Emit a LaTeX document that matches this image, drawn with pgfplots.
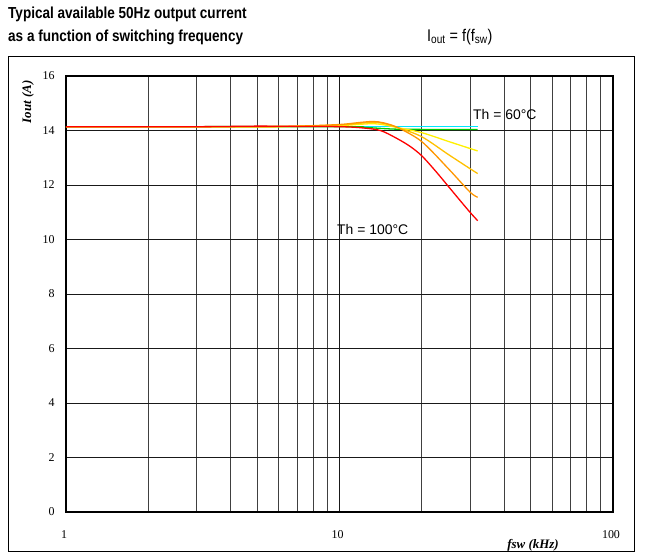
\documentclass[border=0pt]{standalone}
\usepackage{fontspec}
\setmainfont{Liberation Serif}
\newfontfamily\arial{Liberation Sans}
\newfontfamily\arialn[FakeStretch=0.85]{Liberation Sans}
\usepackage{pgfplots}
\pgfplotsset{compat=1.18}
\definecolor{cCyan}{RGB}{0,230,255}
\definecolor{cGreen}{RGB}{0,200,0}
\definecolor{cYellow}{RGB}{255,240,0}
\definecolor{cGold}{RGB}{255,192,0}
\definecolor{cOrange}{RGB}{255,150,0}
\definecolor{cRed}{RGB}{255,0,0}
\begin{document}
\begin{tikzpicture}
\path[use as bounding box] (0bp,0bp) rectangle (645bp,560bp);
\draw[line width=1bp] (8bp,8bp) rectangle (634bp,503bp);
\node[anchor=west, inner sep=0pt] at (8bp,546bp) {\arialn\bfseries\fontsize{16}{18}\selectfont Typical available 50Hz output current};
\node[anchor=west, inner sep=0pt] at (8bp,523bp) {\arialn\bfseries\fontsize{16}{18}\selectfont as a function of switching frequency};
\node[anchor=west, inner sep=0pt] at (427bp,523bp) {\arialn\fontsize{17}{19}\selectfont I\textsubscript{out} = f(f\textsubscript{sw})};
\begin{axis}[
  at={(66bp,48bp)}, anchor=south west,
  scale only axis, width=547bp, height=436bp,
  xmode=log, xmin=1, xmax=100, ymin=0, ymax=16,
  xtick={1,10,100}, xticklabels={1,10,100},
  ytick={0,2,...,16},
  grid=both,
  major grid style={black!90, line width=0.75bp},
  minor grid style={black!75, line width=0.75bp},
  tick style={draw=none},
  axis line style={line width=1.2bp},
  /pgf/number format/assume math mode=true,
  ticklabel style={font=\fontsize{12}{14}\selectfont},
  xticklabel style={anchor=center, yshift=-23bp, xshift=-2bp},
  yticklabel style={xshift=-8bp},
  clip=false,
]
\addplot[cCyan, line width=1.3bp] coordinates {(1,14.14) (32,14.14)};
\addplot[cGreen, line width=1.3bp, smooth] coordinates {(1,14.14) (10,14.14) (12,14.12) (14,14.08) (16,14.05) (20,14.04) (32,14.04)};
\addplot[cYellow, line width=1.3bp, smooth, tension=0.5] coordinates {(1,14.14) (5,14.14) (7,14.15) (10,14.18) (12,14.23) (13.3,14.25) (14.5,14.21) (16.4,14.1) (20,13.92) (25,13.6) (30,13.34) (32,13.25)};
\addplot[cGold, line width=1.3bp, smooth, tension=0.5] coordinates {(1,14.14) (5,14.14) (7,14.16) (10,14.2) (12,14.27) (13.3,14.3) (14.5,14.26) (16.4,14.1) (20,13.77) (25,13.12) (30,12.6) (32,12.42)};
\addplot[cOrange, line width=1.3bp, smooth, tension=0.5] coordinates {(1,14.14) (5,14.14) (7,14.16) (10,14.22) (12,14.3) (13.3,14.33) (14.5,14.28) (16.4,14.1) (20,13.59) (25,12.6) (30,11.74) (32,11.55)};
\addplot[cRed, line width=1.3bp, smooth, tension=0.5] coordinates {(1,14.14) (3,14.14) (5,14.16) (7,14.15) (10,14.14) (12,14.1) (14.1,14.0) (16.2,13.71) (18.1,13.42) (20,13.07) (22.5,12.5) (25,11.95) (27.5,11.45) (30,11.0) (32,10.69)};
\end{axis}
\node[anchor=west, inner sep=0pt] at (473bp,445bp) {\arial\fontsize{14}{16}\selectfont Th = 60°C};
\node[anchor=west, inner sep=0pt] at (337bp,330bp) {\arial\fontsize{14}{16}\selectfont Th = 100°C};
\node[rotate=90, inner sep=0pt] at (28bp,458bp) {\bfseries\itshape\fontsize{13}{15}\selectfont Iout (A)};
\node[inner sep=0pt] at (533bp,15bp) {\bfseries\itshape\fontsize{13}{15}\selectfont fsw (kHz)};
\end{tikzpicture}
\end{document}
